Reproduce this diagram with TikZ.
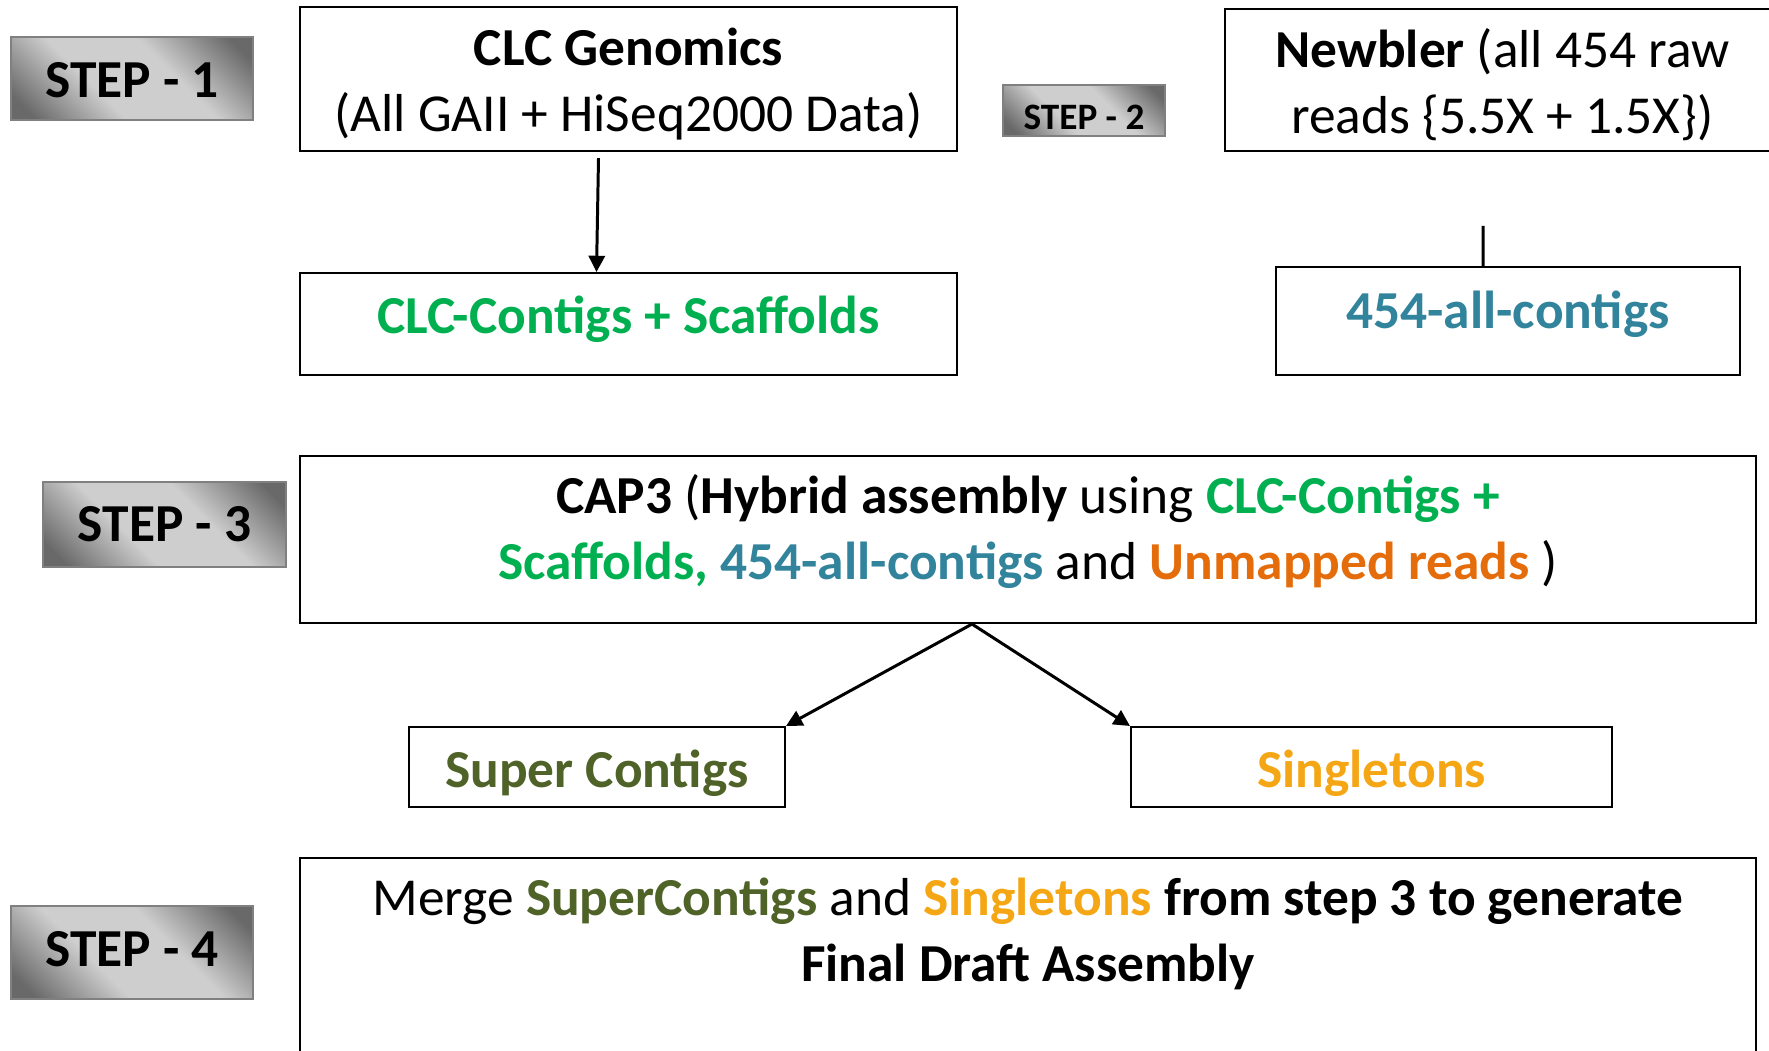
\documentclass[tikz,border=0pt]{standalone}
\usepackage{fontspec}
\setmainfont{Carlito}
\usetikzlibrary{arrows.meta,shapes}
\definecolor{clcgreen}{RGB}{0,176,80}
\definecolor{teal454}{RGB}{49,132,155}
\definecolor{unmaporange}{RGB}{228,108,10}
\definecolor{superolive}{RGB}{79,98,40}
\definecolor{singleyellow}{RGB}{245,166,20}
\definecolor{stepdark}{RGB}{105,105,105}
\definecolor{steplight}{RGB}{206,206,206}
\pgfdeclarehorizontalshading{stepshade}{100bp}{color(0bp)=(stepdark); color(20bp)=(stepdark); color(40bp)=(steplight); color(60bp)=(steplight); color(80bp)=(stepdark); color(100bp)=(stepdark)}
\tikzset{
  boxtext/.style = {align=center, inner sep=0pt,
    font=\fontsize{15.2}{18.6}\selectfont},
  step_box/.style = {boxtext, rectangle, draw=gray, line width=0.8pt,
    shading=stepshade, shading angle=45,
    font=\fontsize{15.2}{18}\selectfont\bfseries},% etape
  main_box/.style = {boxtext, rectangle, draw=black, line width=0.6pt},% boite
  link/.style = {line width=0.85pt}
}
\begin{document}
\begin{tikzpicture}[x=0.1mm,y=-0.1mm,>={Triangle[length=4.6pt,width=4.6pt]}]
\useasboundingbox (0,0) rectangle (1769,1050);
\clip (0,0) rectangle (1769,1050);
% etapes
\node [step_box, minimum width=24.2mm, minimum height=8.3mm] (step1) at (132,78.5) {};
\node [step_box, minimum width=16.2mm, minimum height=5.1mm] (step2) at (1084,110.5) {};
\node [step_box, minimum width=24.3mm, minimum height=8.5mm] (step3) at (164.5,524.5) {};
\node [step_box, minimum width=24.2mm, minimum height=9.3mm] (step4) at (132,952.5) {};
\node [boxtext, font=\fontsize{15.2}{18}\selectfont\bfseries] (step1txt) at ([shift={(0,2)}]step1) {STEP - 1};
\node [boxtext, font=\fontsize{10.6}{12}\selectfont\bfseries] (step2txt) at ([shift={(0,7)}]step2) {STEP - 2};
\node [boxtext, font=\fontsize{15.2}{18}\selectfont\bfseries] (step3txt) at (step3) {STEP - 3};
\node [boxtext, font=\fontsize{15.2}{18}\selectfont\bfseries] (step4txt) at ([shift={(0,-3)}]step4) {STEP - 4};
% boites
\node [main_box, minimum width=65.7mm, minimum height=14.4mm] (clcgen) at (628.5,79) {};
\node [boxtext] (clcgentxt) at ([shift={(0,5)}]clcgen)
  {\textbf{CLC Genomics}\\(All GAII + HiSeq2000 Data)};
\node [main_box, minimum width=55.5mm, minimum height=14.2mm] (newbler) at (1502.5,80) {};
\node [boxtext] (newblertxt) at ([shift={(0,4.5)}]newbler)
  {\textbf{Newbler} (all 454 raw\\reads \{5.5X + 1.5X\})};
\node [main_box, minimum width=65.7mm, minimum height=10.2mm] (clccontig) at (628.5,324) {};
\node [boxtext] (clccontigtxt) at ([shift={(0,-4.5)}]clccontig)
  {\color{clcgreen}\bfseries CLC-Contigs + Scaffolds};
\node [main_box, minimum width=46.4mm, minimum height=10.8mm] (contigs454) at (1508,321) {};
\node [boxtext] (contigs454txt) at ([shift={(0,-6.5)}]contigs454)
  {\color{teal454}\bfseries 454-all-contigs};
\node [main_box, minimum width=145.6mm, minimum height=16.7mm] (cap3) at (1028,539.5) {};
\node [boxtext] (cap3txt) at ([shift={(0,-8)}]cap3)
  {\textbf{CAP3} (\textbf{Hybrid assembly} using {\color{clcgreen}\bfseries CLC-Contigs +}\\
   {\color{clcgreen}\bfseries Scaffolds,} {\color{teal454}\bfseries 454-all-contigs} and
   {\color{unmaporange}\bfseries Unmapped reads} )};
\node [main_box, minimum width=37.6mm, minimum height=8mm] (super) at (597,767) {};
\node [boxtext] (supertxt) at ([shift={(0,6.5)}]super)
  {\color{superolive}\bfseries Super Contigs};
\node [main_box, minimum width=48.1mm, minimum height=8mm] (single) at (1371.5,767) {};
\node [boxtext] (singletxt) at ([shift={(0,6.5)}]single)
  {\color{singleyellow}\bfseries Singletons};
\node [main_box, minimum width=145.6mm, minimum height=22mm, anchor=north] (merge) at (1028,857) {};
\node [boxtext] (mergetxt) at ([shift={(0,77)}]merge.north)
  {Merge {\color{superolive}\bfseries SuperContigs} and {\color{singleyellow}\bfseries Singletons}
   \textbf{from step 3 to generate}\\\textbf{Final Draft Assembly}};
% liens
\draw [link,->] ([shift={(-30,6)}]clcgen.south) -- ([shift={(-32,0)}]clccontig.north);
\coordinate (newbler_end) at ([shift={(-25,-40)}]contigs454.north);
\draw [link] (newbler_end) -- ([xshift=-2.5mm]contigs454.north);
\draw [link,->] ([xshift=-5.6mm]cap3.south) -- (super.north east);
\draw [link,->] ([xshift=-5.6mm]cap3.south) -- (single.north west);
\end{tikzpicture}
\end{document}
